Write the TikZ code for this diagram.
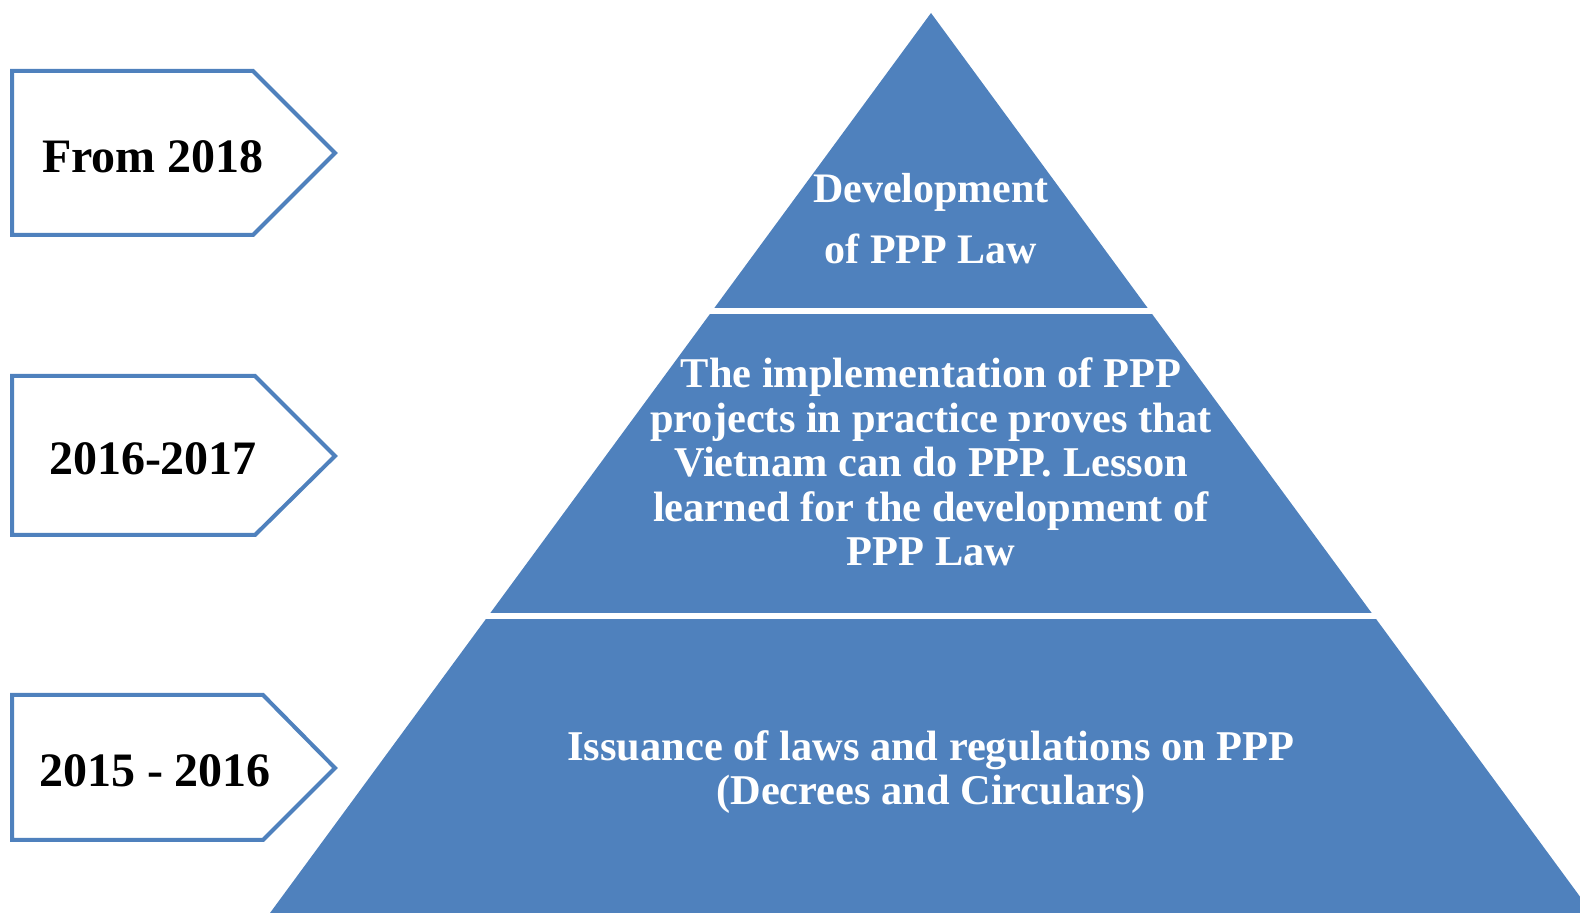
\documentclass[tikz,border=0pt]{standalone}
\usepackage{fontspec}
\setmainfont{Liberation Serif}

\begin{document}
\begin{tikzpicture}[x=0.5pt,y=-0.5pt]

\definecolor{pppblue}{RGB}{79,129,189}
\tikzset{
  stagebox/.style={draw=pppblue, line width=2pt, fill=white},
  stagetext/.style={font=\bfseries\fontsize{24}{28}\selectfont, text=black},
  layertext/.style={font=\bfseries\fontsize{21.2}{22.2}\selectfont, text=white, align=center}
}
\def\apexx{931}
\coordinate (apex) at (\apexx, 13);
\coordinate (baseleft) at (270, 913);
\coordinate (baseright) at (1592, 913);

\useasboundingbox (0,0) rectangle (1580,913);

\begin{scope}
\clip (apex) -- (baseleft) -- (baseright) -- cycle;
\fill[pppblue] (0,0) rectangle (1580,308);
\fill[pppblue] (0,314) rectangle (1580,613);
\fill[pppblue] (0,619) rectangle (1580,913);
\end{scope}

\node[layertext, font=\bfseries\fontsize{21}{30.5}\selectfont] (toplayer) at (\apexx, 219) {Development\\of PPP Law};
\node[layertext] (midlayer) at (\apexx, 462) {The implementation of PPP\\projects in practice proves that\\Vietnam can do PPP. Lesson\\learned for the development of\\PPP Law};
\node[layertext] (baselayer) at (\apexx, 772) {Issuance of laws and regulations on PPP\\(Decrees and Circulars)};

\draw[stagebox] (12,71) -- (253,71) -- (335,153) -- (253,235) -- (12,235) -- cycle;
\draw[stagebox] (12,376) -- (255,376) -- (335,456) -- (255,535) -- (12,535) -- cycle;
\draw[stagebox] (12,695) -- (263,695) -- (335,768) -- (263,840) -- (12,840) -- cycle;

\node[stagetext] (from2018) at (153, 157) {From 2018};
\node[stagetext] (y20162017) at (153, 459) {2016-2017};
\node[stagetext] (y20152016) at (155, 771) {2015 - 2016};

\end{tikzpicture}
\end{document}
